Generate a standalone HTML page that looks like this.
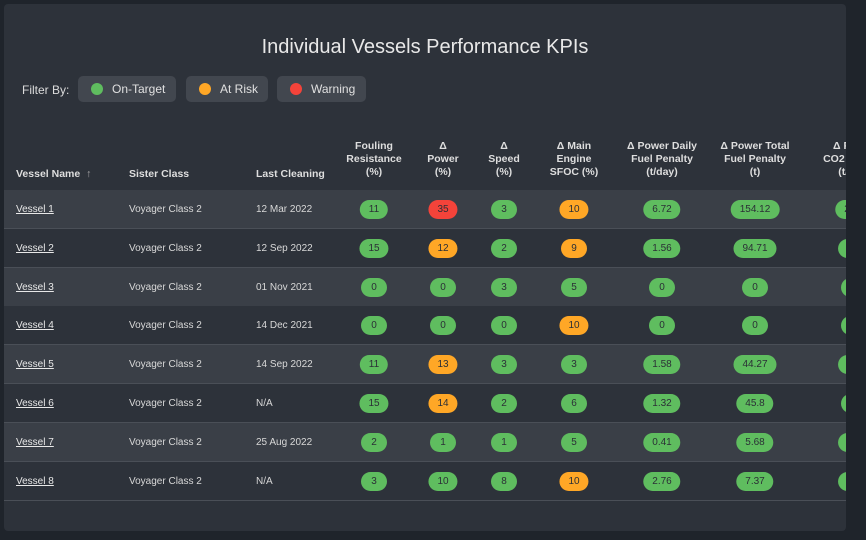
<!DOCTYPE html>
<html><head><meta charset="utf-8">
<style>
body{margin:0;width:866px;height:540px;background:#1f242b;font-family:"Liberation Sans",sans-serif;overflow:hidden;position:relative}
#panel{position:absolute;left:4px;top:4px;width:842px;height:527px;background:#2d323a;border-radius:4px;overflow:hidden}
.abs{position:absolute}
#title{left:0;width:842px;top:32px;text-align:center;color:#e8e8e8;font-size:20px}
#filter-label{left:18px;top:79px;color:#dcdcdc;font-size:12px}
.btn{top:72px;height:26px;background:#42474f;border-radius:5px;color:#e0e0e0;font-size:12px;line-height:26px;box-sizing:border-box;padding-left:34px}
.dot{position:absolute;left:13px;top:7px;width:12px;height:12px;border-radius:6px}
.hdr{color:#dedede;font-size:10.5px;line-height:13px;font-weight:bold;text-align:center;transform:translateX(-50%);white-space:nowrap}
.hdrl{color:#dedede;font-size:10.5px;font-weight:bold;top:164px;white-space:nowrap}
.row{left:0;width:842px;height:38px;border-bottom:1px solid #4a4f57}
.cell{font-size:10px;color:#d8d8d8;top:14px;white-space:nowrap}
.pill{top:10px;height:19px;line-height:19px;border-radius:10px;font-size:10px;color:#2b2f36;text-align:center;transform:translateX(-50%);padding:0 9px;min-width:8px;white-space:nowrap}
</style></head><body>
<div id="panel">
<div id="title" class="abs">Individual Vessels Performance KPIs</div>
<div id="filter-label" class="abs">Filter By:</div>
<div class="abs btn" style="left:74px;width:98px"><span class="dot" style="background:#5fbd5f"></span>On-Target</div>
<div class="abs btn" style="left:182px;width:82px"><span class="dot" style="background:#ffa726"></span>At Risk</div>
<div class="abs btn" style="left:273px;width:89px"><span class="dot" style="background:#f4433a"></span>Warning</div>
<div class="abs hdrl" style="left:12px">Vessel Name &nbsp;<span style="font-weight:normal;color:#aaa">↑</span></div>
<div class="abs hdrl" style="left:125px">Sister Class</div>
<div class="abs hdrl" style="left:252px">Last Cleaning</div>
<div id="rows"></div>
</div>
<script>
const vessels=["Vessel 1","Vessel 2","Vessel 3","Vessel 4","Vessel 5","Vessel 6","Vessel 7","Vessel 8"];
const sisterClass=["Voyager Class 2","Voyager Class 2","Voyager Class 2","Voyager Class 2","Voyager Class 2","Voyager Class 2","Voyager Class 2","Voyager Class 2"];
const lastCleaning=["12 Mar 2022","12 Sep 2022","01 Nov 2021","14 Dec 2021","14 Sep 2022","N/A","25 Aug 2022","N/A"];
const fouling=["11","15","0","0","11","15","2","3"];
const dPower=["35","12","0","0","13","14","1","10"];
const dSpeed=["3","2","3","0","3","2","1","8"];
const sfoc=["10","9","5","10","3","6","5","10"];
const dailyPenalty=["6.72","1.56","0","0","1.58","1.32","0.41","2.76"];
const totalPenalty=["154.12","94.71","0","0","44.27","45.8","5.68","7.37"];
const co2Penalty=["21.6","4.7","0","0","4.7","0","2.1","3.2"];
const statusFouling=["g","g","g","g","g","g","g","g"];
const statusPower=["r","o","g","g","o","o","g","g"];
const statusSpeed=["g","g","g","g","g","g","g","g"];
const statusSfoc=["o","o","g","o","g","g","g","o"];
const colors={g:"#5fbd5f",o:"#ffa726",r:"#f4433a"};
const cols=[
 {h:["Fouling","Resistance","(%)"],x:370,v:fouling,s:statusFouling,n:"fouling"},
 {h:["Δ","Power","(%)"],x:439,v:dPower,s:statusPower,n:"power"},
 {h:["Δ","Speed","(%)"],x:500,v:dSpeed,s:statusSpeed,n:"speed"},
 {h:["Δ Main","Engine","SFOC (%)"],x:570,v:sfoc,s:statusSfoc,n:"sfoc"},
 {h:["Δ Power Daily","Fuel Penalty","(t/day)"],x:658,v:dailyPenalty,s:null,n:"daily-penalty"},
 {h:["Δ Power Total","Fuel Penalty","(t)"],x:751,v:totalPenalty,s:null,n:"total-penalty"},
 {h:["Δ Power","CO2 Penalty","(t/day)"],x:850,v:co2Penalty,s:null,n:"co2-penalty"}
];
const panel=document.getElementById('rows');
cols.forEach(c=>{
 const d=document.createElement('div');
 d.className='abs hdr';d.style.left=c.x+'px';d.style.top='136px';
 d.innerHTML=c.h.join('<br>');
 
 
 panel.appendChild(d);
});
vessels.forEach((v,i)=>{
 const r=document.createElement('div');
 r.className='abs row';r.style.top=(186+i*38.8)+'px';
 r.style.background=i%2===0?'#3a3f47':'#2d323a';
 
 
 const a=document.createElement('div');
 a.className='abs cell';a.style.left='12px';a.style.textDecoration='underline';a.style.color='#e8e8e8';a.textContent=v;
 
 
 r.appendChild(a);
 const b=document.createElement('div');
 b.className='abs cell';b.style.left='125px';b.textContent=sisterClass[i];
 
 
 r.appendChild(b);
 const c2=document.createElement('div');
 c2.className='abs cell';c2.style.left='252px';c2.textContent=lastCleaning[i];
 
 
 r.appendChild(c2);
 cols.forEach(c=>{
  const p=document.createElement('div');
  p.className='abs pill';p.style.left=c.x+'px';
  p.style.background=colors[c.s?c.s[i]:'g'];
  p.textContent=c.v[i];
  
  
  r.appendChild(p);
 });
 panel.appendChild(r);
});
</script>
</body></html>
